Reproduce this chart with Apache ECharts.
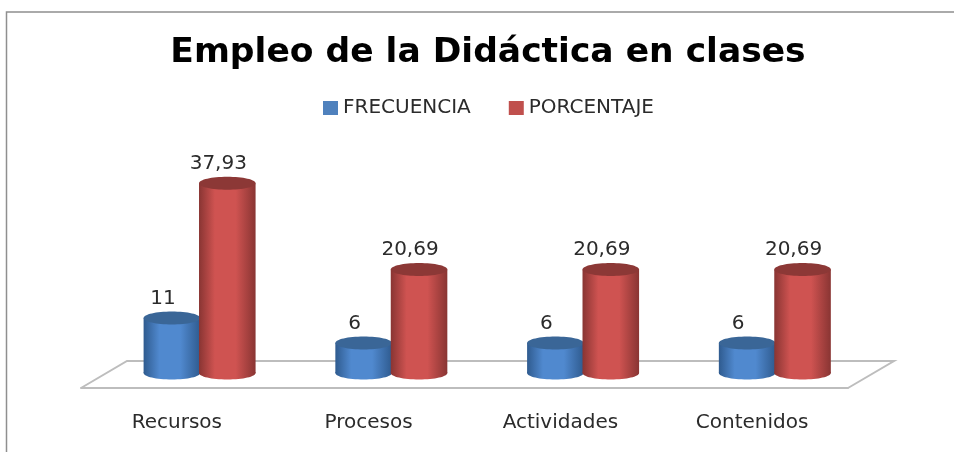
<!DOCTYPE html>
<html><head><meta charset="utf-8">
<script src="https://cdn.jsdelivr.net/npm/echarts@6/dist/echarts.min.js"></script>
<style>html,body{margin:0;padding:0;background:#fff}#c{width:954px;height:452px;filter:blur(0.4px)}</style>
</head><body><div id="c"></div>
<script>
const titleText = 'Empleo de la Didáctica en clases';
const categories = ['Recursos','Procesos','Actividades','Contenidos'];
const frecuencia = [11,6,6,6];
const porcentaje = [37.93,20.69,20.69,20.69];
const seriesNames = ['FRECUENCIA','PORCENTAJE'];

const DX = 23, DY = -15, RY = 6.5;
const FONT = '"DejaVu Sans", sans-serif';
function cylinder(offset, edge, mid, cap, fmt){
  return function(params, api){
    const v = api.value(1);
    const p = api.coord([api.value(0), v]);
    const base = api.coord([api.value(0), 0]);
    const band = api.size([1,0])[0];
    const w = band*0.295, cx = p[0]+DX+band*offset, rx = w/2;
    const top = p[1]+DY, bot = base[1]+DY;
    const grad = new echarts.graphic.LinearGradient(0,0,1,0,[
      {offset:0,color:edge},{offset:0.28,color:mid},{offset:0.65,color:mid},{offset:1,color:edge}]);
    return {type:'group',children:[
      {type:'ellipse',shape:{cx:cx,cy:bot,rx:rx,ry:RY},style:{fill:grad}},
      {type:'rect',shape:{x:cx-rx,y:top,width:w,height:bot-top},style:{fill:grad}},
      {type:'ellipse',shape:{cx:cx,cy:top,rx:rx,ry:RY},style:{fill:cap}},
      {type:'text',style:{text:fmt(v),x:cx-9,y:top-RY-3,align:'center',verticalAlign:'bottom',
        font:'20px '+FONT,fill:'#2b2b2b'}}
    ]};
  };
}
const fmtComma = v => String(v).replace('.',',');
const chart = echarts.init(document.getElementById('c'));
chart.setOption({
  animation:false,
  backgroundColor:'#fff',
  title:{text:titleText,top:31,left:483,textAlign:'center',
    textStyle:{fontFamily:FONT,fontSize:34.5,fontWeight:'bold',color:'#000'}},
  legend:{data:seriesNames,top:93,left:318,icon:'rect',itemWidth:15,itemHeight:14,itemGap:38,
    textStyle:{fontFamily:FONT,fontSize:20,color:'#2b2b2b'}},
  grid:{left:81,width:767,top:188,height:200},
  xAxis:{type:'category',data:categories,
    axisLine:{lineStyle:{color:'#bdbdbd',width:2}},axisTick:{show:false},
    axisLabel:{margin:25,fontFamily:FONT,fontSize:20,color:'#2b2b2b'}},
  yAxis:{type:'value',min:0,max:40,show:false,splitLine:{show:false}},
  graphic:[
    {type:'polyline',z:0,shape:{points:[[6.5,452],[6.5,12],[954,12]]},style:{fill:null,stroke:'#8f8f8f',lineWidth:1.5}}
  ],
  series:[
    {type:'custom',silent:true,z:1,data:[0],
     renderItem:function(params,api){
       const c = params.coordSys, y0=c.y+c.height, x0=c.x, x1=c.x+c.width;
       return {type:'polyline',shape:{points:[[x0,y0],[x0+46,y0-27],[x1+46,y0-27],[x1,y0]]},
         style:{fill:null,stroke:'#bdbdbd',lineWidth:2}};
     }},
    {name:seriesNames[0],type:'custom',z:3,itemStyle:{color:'#4F81BD'},
     encode:{x:0,y:1},data:frecuencia.map((v,i)=>[i,v]),
     renderItem:cylinder(-0.146,'#2f5b8f','#5089cf','#3a6697',String)},
    {name:seriesNames[1],type:'custom',z:4,itemStyle:{color:'#C0504D'},
     encode:{x:0,y:1},data:porcentaje.map((v,i)=>[i,v]),
     renderItem:cylinder(0.143,'#893533','#cf5351','#8c3836',fmtComma)}
  ]
});
</script></body></html>
